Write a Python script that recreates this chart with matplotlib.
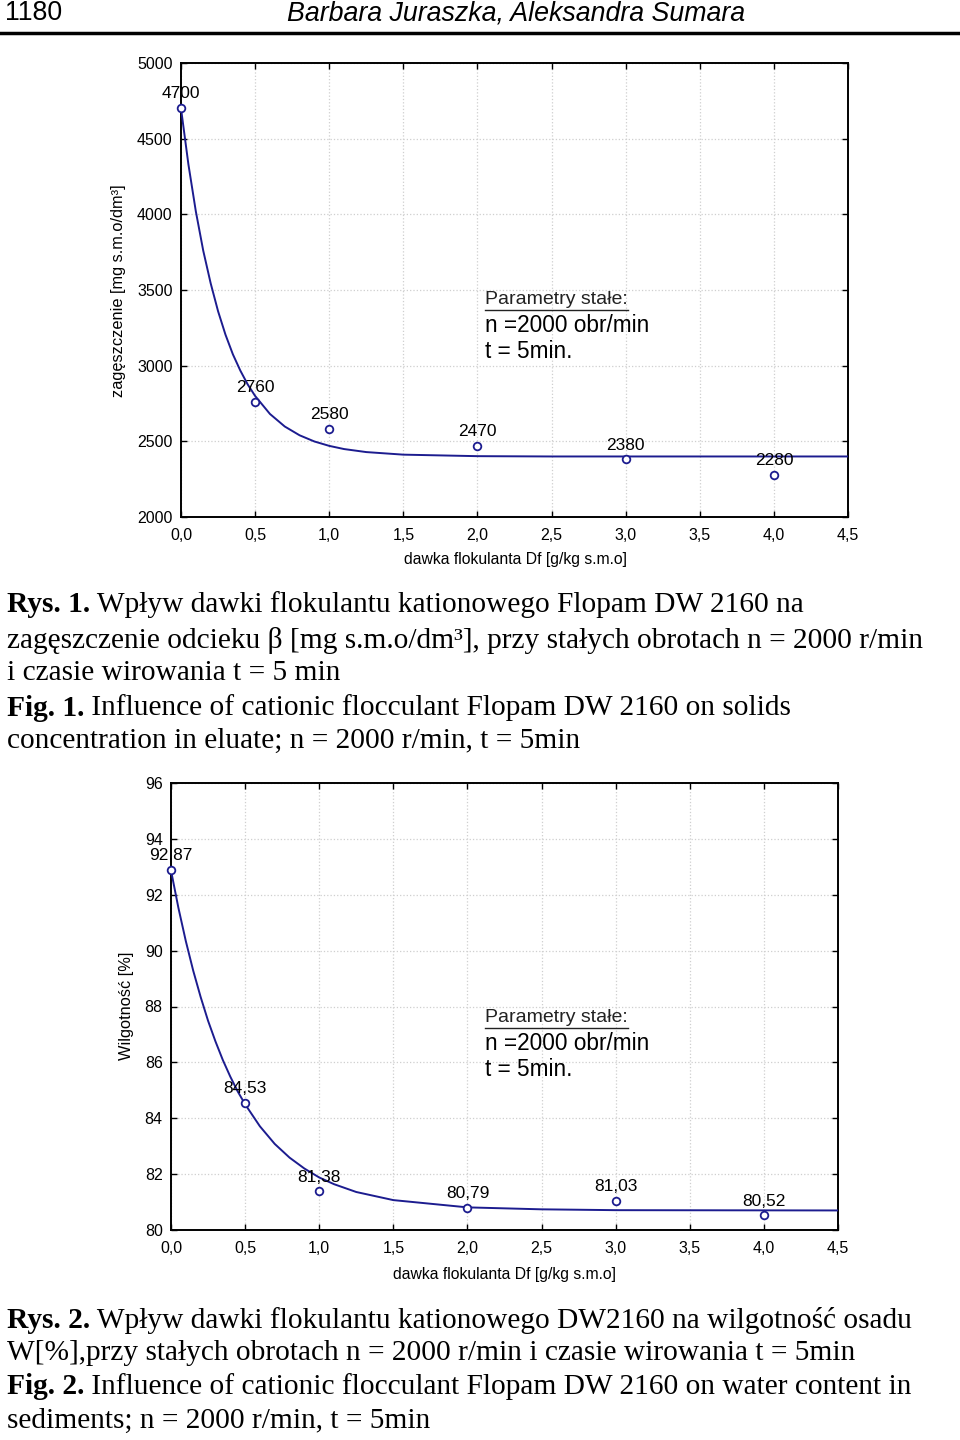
import matplotlib
matplotlib.use('Agg')
import matplotlib.pyplot as plt
from matplotlib.lines import Line2D

# measured points
dose = [0.0, 0.5, 1.0, 2.0, 3.0, 4.0]
conc = [4700, 2760, 2580, 2470, 2380, 2280]
moist = [92.87, 84.53, 81.38, 80.79, 81.03, 80.52]
conc_labels = ['4700', '2760', '2580', '2470', '2380', '2280']
moist_labels = ['92,87', '84,53', '81,38', '80,79', '81,03', '80,52']

# fitted curves
fit_x = [0.0, 0.05, 0.1, 0.15, 0.2, 0.25, 0.3, 0.35, 0.4, 0.45, 0.5, 0.6,
         0.7, 0.8, 0.9, 1.0, 1.1, 1.25, 1.5, 2.0, 2.5, 3.0, 4.5]
fit_conc = [4700, 4330, 4020, 3760, 3545, 3360, 3205, 3075, 2968, 2876, 2800,
            2681, 2598, 2540, 2499, 2470, 2449, 2429, 2412, 2402, 2400, 2400, 2400]
fit_moist = [92.87, 91.53, 90.34, 89.28, 88.34, 87.49, 86.75, 86.08, 85.49,
             84.96, 84.50, 83.71, 83.08, 82.59, 82.20, 81.88, 81.64, 81.36,
             81.07, 80.81, 80.74, 80.71, 80.70]

x_ticks = [0, 0.5, 1, 1.5, 2, 2.5, 3, 3.5, 4, 4.5]
x_ticklabels = ['0,0', '0,5', '1,0', '1,5', '2,0', '2,5', '3,0', '3,5', '4,0', '4,5']

W, H = 960, 1440
NAVY = '#1c1c8f'
SANS = 'Liberation Sans'
SERIF = 'Liberation Serif'
CAP = 21.2

fig = plt.figure(figsize=(W / 100, H / 100), dpi=100)
fig.patch.set_facecolor('white')


def fx(px):
    return px / W


def fy(py):
    return 1 - py / H


def runs_text(x_px, y_px, runs, size=CAP, family=SERIF):
    renderer = fig.canvas.get_renderer()
    x = x_px
    for s, weight in runs:
        t = fig.text(fx(x), fy(y_px), s, fontsize=size, family=family,
                     fontweight=weight, va='center', ha='left')
        x += t.get_window_extent(renderer).width


def params_box(x_px, y_px):
    renderer = fig.canvas.get_renderer()
    t = fig.text(fx(x_px), fy(y_px), 'Parametry stałe:', fontsize=14,
                 family=SANS, va='center', ha='left', color='#222222')
    bb = t.get_window_extent(renderer)
    yl = bb.y0 - 1
    fig.add_artist(Line2D([bb.x0 / W, bb.x1 / W], [yl / H, yl / H],
                          transform=fig.transFigure, color='#222222', lw=1.0))
    fig.text(fx(x_px), fy(y_px + 26), 'n =2000 obr/min', fontsize=16.3,
             family=SANS, va='center', ha='left')
    fig.text(fx(x_px), fy(y_px + 52), 't = 5min.', fontsize=16.3,
             family=SANS, va='center', ha='left')


def style_axes(ax, yticks):
    ax.set_xlim(0, 4.5)
    ax.set_xticks(x_ticks)
    ax.set_xticklabels(x_ticklabels)
    ax.set_yticks(yticks)
    ax.grid(True, color='#cfcfcf', linestyle=':', linewidth=0.9)
    ax.tick_params(direction='in', top=True, right=True, length=4, width=1,
                   labelsize=11.5)
    ax.tick_params(axis='x', pad=8)
    ax.tick_params(axis='y', pad=6)
    for lab in ax.get_xticklabels() + ax.get_yticklabels():
        lab.set_family(SANS)
    for sp in ax.spines.values():
        sp.set_linewidth(1.4)


def plot_series(ax, y, fit_y, labels):
    ax.plot(fit_x, fit_y, color=NAVY, lw=1.4, zorder=3)
    ax.plot(dose, y, 'o', mfc='white', mec=NAVY, mew=1.3, ms=5.5,
            zorder=4, clip_on=False)
    for xv, yv, lab in zip(dose, y, labels):
        ax.annotate(lab, (xv, yv), xytext=(0, 5), textcoords='offset points',
                    ha='center', va='bottom', fontsize=12.5, family=SANS)


# header
fig.text(fx(5), fy(13), '1180', fontsize=19.3, family=SANS, va='center', ha='left')
fig.text(fx(516), fy(13), 'Barbara Juraszka, Aleksandra Sumara', fontsize=19.3,
         family=SANS, style='italic', va='center', ha='center')
fig.add_artist(Line2D([0, 1], [fy(33), fy(33)], transform=fig.transFigure,
                      color='black', lw=2.5))

# chart 1
ax1 = fig.add_axes([fx(181), fy(517), (848 - 181) / W, (517 - 63) / H])
plot_series(ax1, conc, fit_conc, conc_labels)
ax1.set_ylim(2000, 5000)
style_axes(ax1, [2000, 2500, 3000, 3500, 4000, 4500, 5000])
fig.text(fx(118), fy(291), 'zagęszczenie [mg s.m.o/dm³]', rotation=90,
         fontsize=11.8, family=SANS, va='center', ha='center')
fig.text(fx(515), fy(560), 'dawka flokulanta Df [g/kg s.m.o]', fontsize=11.3,
         family=SANS, va='center', ha='center')
params_box(485, 300)

# caption 1
runs_text(7, 605, [('Rys. 1.', 'bold'),
                   (' Wpływ dawki flokulantu kationowego Flopam DW 2160 na', 'normal')])
runs_text(7, 640, [('zagęszczenie odcieku β [mg s.m.o/dm³], przy stałych obrotach n = 2000 r/min', 'normal')])
runs_text(7, 673, [('i czasie wirowania t = 5 min', 'normal')])
runs_text(7, 708, [('Fig. 1.', 'bold'),
                   (' Influence of cationic flocculant Flopam DW 2160 on solids', 'normal')])
runs_text(7, 741, [('concentration in eluate; n = 2000 r/min, t = 5min', 'normal')])

# chart 2
ax2 = fig.add_axes([fx(171), fy(1230), (838 - 171) / W, (1230 - 783) / H])
plot_series(ax2, moist, fit_moist, moist_labels)
ax2.set_ylim(80, 96)
style_axes(ax2, [80, 82, 84, 86, 88, 90, 92, 94, 96])
fig.text(fx(127), fy(1006), 'Wilgotność [%]', rotation=90,
         fontsize=11.8, family=SANS, va='center', ha='center')
fig.text(fx(505), fy(1274), 'dawka flokulanta Df [g/kg s.m.o]', fontsize=11.3,
         family=SANS, va='center', ha='center')
params_box(485, 1018)

# caption 2
runs_text(7, 1320, [('Rys. 2.', 'bold'),
                    (' Wpływ dawki flokulantu kationowego DW2160 na wilgotność osadu', 'normal')])
runs_text(7, 1353, [('W[%],przy stałych obrotach n = 2000 r/min i czasie wirowania t = 5min', 'normal')])
runs_text(7, 1387, [('Fig. 2.', 'bold'),
                    (' Influence of cationic flocculant Flopam DW 2160 on water content in', 'normal')])
runs_text(7, 1421, [('sediments; n = 2000 r/min, t = 5min', 'normal')])

fig.savefig('out.png', dpi=100, facecolor='white')
